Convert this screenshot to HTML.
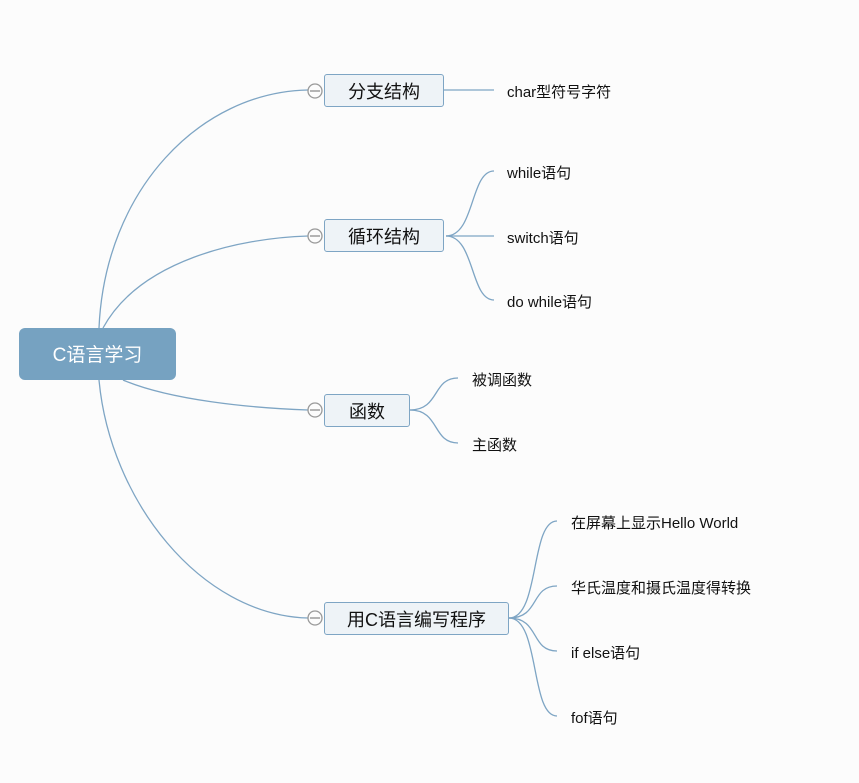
<!DOCTYPE html>
<html><head><meta charset="utf-8"><style>
body{margin:0;width:859px;height:783px;background:#fcfcfc;font-family:"Liberation Sans","Noto Sans CJK SC",sans-serif;position:relative;overflow:hidden}
.n{position:absolute;box-sizing:border-box;background:#eef3f7;border:1.5px solid #7ea5c4;border-radius:3px;font-size:18px;color:#111;text-align:center}
.t{position:absolute;font-size:15px;color:#111;white-space:nowrap}
</style></head><body>
<svg width="859" height="783" style="position:absolute;left:0;top:0" fill="none" stroke="#7ea5c4" stroke-width="1.3">
<path d="M99 328 C105 190 200 92 308 90"/>
<path d="M103 328 C140 260 240 238 308 236"/>
<path d="M123 380 C170 400 250 408 308 410"/>
<path d="M99 380 C110 500 200 615 308 618"/>
<path d="M444 90 H494"/>
<path d="M446 236 C475 236 470 171 494 171"/><path d="M446 236 H494"/><path d="M446 236 C475 236 470 300 494 300"/>
<path d="M410 410 C440 410 432 378 458 378"/><path d="M410 410 C440 410 432 443 458 443"/>
<path d="M509 618 C540 618 530 521 557 521"/><path d="M509 618 C540 618 530 586 557 586"/><path d="M509 618 C540 618 530 651 557 651"/><path d="M509 618 C540 618 530 716 557 716"/>
<g stroke="#999" stroke-width="1.3" fill="#fcfcfc">
<circle cx="315" cy="91" r="7"/><circle cx="315" cy="236" r="7"/><circle cx="315" cy="410" r="7"/><circle cx="315" cy="618" r="7"/></g>
<g stroke="#888"><path d="M310 91H320M310 236H320M310 410H320M310 618H320"/></g>
</svg>
<div style="position:absolute;left:19px;top:328px;width:157px;height:52px;background:#76a2c1;border-radius:6px;color:#fff;font-size:19px;text-align:center;line-height:56px">C语言学习</div>
<div class="n" style="left:324px;top:74px;width:120px;height:33px;line-height:34px">分支结构</div>
<div class="n" style="left:324px;top:219px;width:120px;height:33px;line-height:34px">循环结构</div>
<div class="n" style="left:324px;top:394px;width:86px;height:33px;line-height:34px">函数</div>
<div class="n" style="left:324px;top:602px;width:185px;height:33px;line-height:34px">用C语言编写程序</div>
<div class="t" style="left:507px;top:81px">char型符号字符</div>
<div class="t" style="left:507px;top:162px">while语句</div>
<div class="t" style="left:507px;top:227px">switch语句</div>
<div class="t" style="left:507px;top:291px">do while语句</div>
<div class="t" style="left:472px;top:369px">被调函数</div>
<div class="t" style="left:472px;top:434px">主函数</div>
<div class="t" style="left:571px;top:512px">在屏幕上显示Hello World</div>
<div class="t" style="left:571px;top:577px">华氏温度和摄氏温度得转换</div>
<div class="t" style="left:571px;top:642px">if else语句</div>
<div class="t" style="left:571px;top:707px">fof语句</div>
</body></html>
